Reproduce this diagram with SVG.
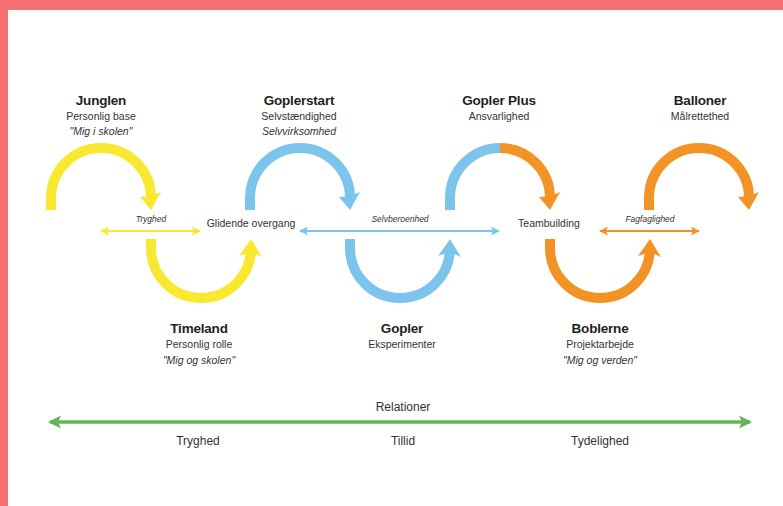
<svg xmlns="http://www.w3.org/2000/svg" width="783" height="506" viewBox="0 0 783 506">
<defs>
<style>
.t{font-family:"Liberation Sans",Arial,sans-serif;fill:#231F20;text-anchor:middle}
.h{font-size:13.5px;font-weight:bold;letter-spacing:-0.2px}
.s{font-size:10.5px;fill:#333}
.i{font-size:10.5px;font-style:italic;fill:#333}
.m{font-size:8.5px;font-style:italic;fill:#333}
.b{font-size:12px;fill:#333}
.arc{fill:none;stroke-width:10}
.y{stroke:#F8E82F}.yf{fill:#F8E82F}
.bl{stroke:#7DC4EC}.blf{fill:#7DC4EC}
.o{stroke:#F39325}.of{fill:#F39325}
</style>
<marker id="my" markerUnits="userSpaceOnUse" viewBox="-10 -5 10 10" refX="-1" refY="0" markerWidth="10" markerHeight="10" orient="auto-start-reverse"><path d="M0,0 L-9,-4.5 L-7,0 L-9,4.5 Z" fill="#F8E82F"/></marker>
<marker id="mb" markerUnits="userSpaceOnUse" viewBox="-10 -5 10 10" refX="-1" refY="0" markerWidth="10" markerHeight="10" orient="auto-start-reverse"><path d="M0,0 L-9,-4.5 L-7,0 L-9,4.5 Z" fill="#7DC4EC"/></marker>
<marker id="mo" markerUnits="userSpaceOnUse" viewBox="-10 -5 10 10" refX="-1" refY="0" markerWidth="10" markerHeight="10" orient="auto-start-reverse"><path d="M0,0 L-9,-4.5 L-7,0 L-9,4.5 Z" fill="#F39325"/></marker>
<marker id="mg" markerUnits="userSpaceOnUse" viewBox="-14 -7 14 14" refX="-2" refY="0" markerWidth="14" markerHeight="14" orient="auto-start-reverse"><path d="M0,0 L-13,-6.5 L-10,0 L-13,6.5 Z" fill="#63B552"/></marker>
</defs>
<rect width="783" height="506" fill="#fff"/>
<rect x="0" y="0" width="783" height="10" fill="#F37070"/>
<rect x="0" y="0" width="8" height="506" fill="#F37070"/>

<g id="connectors">
<path class="arc y" d="M51,210 L51,198 A50,50 0 0 1 151,198"/>
<polygon class="yf" points="140,197 151,210 161,192 151,196"/>
<path class="arc y" d="M151,239 L151,248 A50,50 0 0 0 251,248"/>
<polygon class="yf" points="239,256 251,239 262,257 251,252"/>
<path class="arc bl" d="M250,210 L250,198 A50,50 0 0 1 350,198"/>
<polygon class="blf" points="339,197 350,210 360,192 350,196"/>
<path class="arc bl" d="M350,239 L350,248 A50,50 0 0 0 450,248"/>
<polygon class="blf" points="438,256 450,239 461,257 450,252"/>
<path class="arc bl" d="M450,210 L450,198 A50,50 0 0 1 500,148"/>
<path class="arc o" d="M500,148 A50,50 0 0 1 550,198"/>
<polygon class="of" points="539,197 550,210 560,192 550,196"/>
<path class="arc o" d="M550,239 L550,248 A50,50 0 0 0 650,248"/>
<polygon class="of" points="638,256 650,239 661,257 650,252"/>
<path class="arc o" d="M649,210 L649,198 A50,50 0 0 1 749,198"/>
<polygon class="of" points="738,197 749,210 759,192 749,196"/>
<line x1="101" y1="231" x2="200" y2="231" stroke="#F8E82F" stroke-width="2" marker-start="url(#my)" marker-end="url(#my)"/>
<line x1="300" y1="231" x2="499" y2="231" stroke="#7DC4EC" stroke-width="2" marker-start="url(#mb)" marker-end="url(#mb)"/>
<line x1="600" y1="231" x2="699" y2="231" stroke="#F39325" stroke-width="2" marker-start="url(#mo)" marker-end="url(#mo)"/>
<line x1="50" y1="422" x2="750" y2="422" stroke="#63B552" stroke-width="3.5" marker-start="url(#mg)" marker-end="url(#mg)"/>
</g>

<g id="junglen">
<text class="t h" x="101" y="105">Junglen</text>
<text class="t s" x="101" y="120">Personlig base</text>
<text class="t i" x="101" y="135">"Mig i skolen"</text>
</g>
<g id="goplerstart">
<text class="t h" x="299" y="105">Goplerstart</text>
<text class="t s" x="299" y="120">Selvstændighed</text>
<text class="t i" x="299" y="135">Selvvirksomhed</text>
</g>
<g id="gopler-plus">
<text class="t h" x="499" y="105">Gopler Plus</text>
<text class="t s" x="499" y="120">Ansvarlighed</text>
</g>
<g id="balloner">
<text class="t h" x="700" y="105">Balloner</text>
<text class="t s" x="700" y="120">Målrettethed</text>
</g>
<g id="timeland">
<text class="t h" x="199" y="333">Timeland</text>
<text class="t s" x="199" y="348">Personlig rolle</text>
<text class="t i" x="199" y="364">"Mig og skolen"</text>
</g>
<g id="gopler">
<text class="t h" x="402" y="333">Gopler</text>
<text class="t s" x="402" y="348">Eksperimenter</text>
</g>
<g id="boblerne">
<text class="t h" x="600" y="333">Boblerne</text>
<text class="t s" x="600" y="348">Projektarbejde</text>
<text class="t i" x="600" y="364">"Mig og verden"</text>
</g>
<g id="labels">
<text class="t m" x="151" y="222">Tryghed</text>
<text class="t s" x="251" y="227">Glidende overgang</text>
<text class="t m" x="400" y="222">Selvberoenhed</text>
<text class="t s" x="549" y="227">Teambuilding</text>
<text class="t m" x="650" y="222">Fagfaglighed</text>
</g>
<g id="relationer">
<text class="t b" x="403" y="411">Relationer</text>
<text class="t b" x="198" y="445">Tryghed</text>
<text class="t b" x="403" y="445">Tillid</text>
<text class="t b" x="600" y="445">Tydelighed</text>
</g>
</svg>
